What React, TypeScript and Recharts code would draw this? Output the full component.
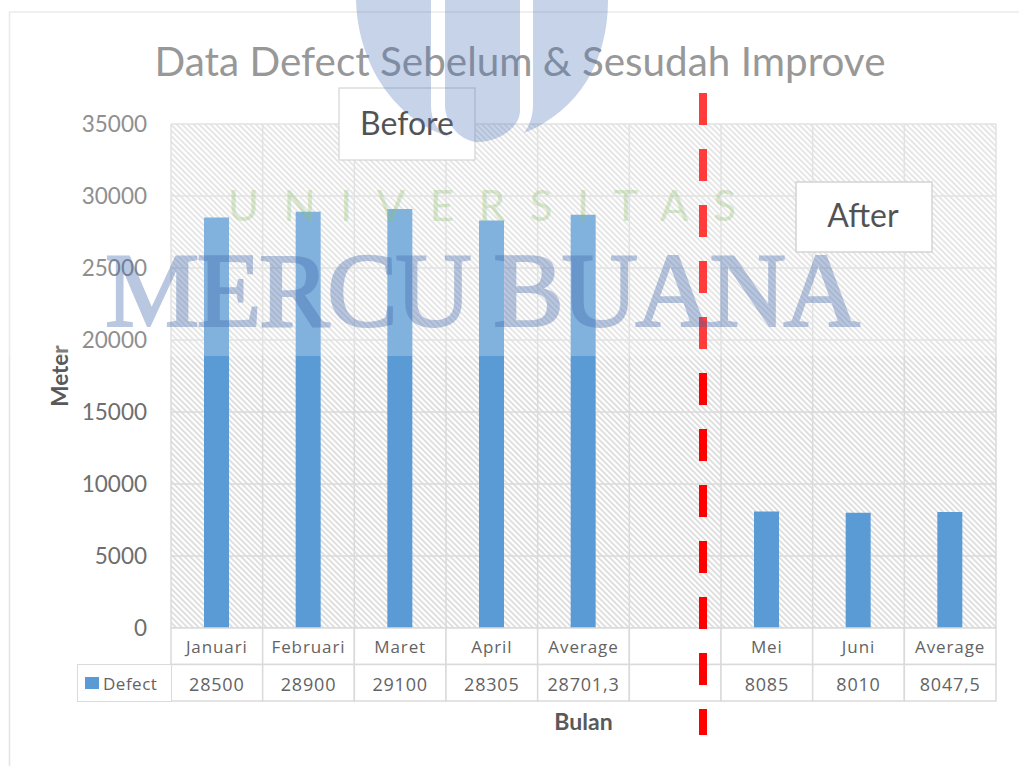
import React from "react";
import { BarChart, Bar, XAxis, YAxis, CartesianGrid, Legend } from "recharts";

const categories = ["Januari", "Februari", "Maret", "April", "Average", " ", "Mei", "Juni", "Average"];
const defectValues: (number | null)[] = [28500, 28900, 29100, 28305, 28701.3, null, 8085, 8010, 8047.5];
const yTicks = [0, 5000, 10000, 15000, 20000, 25000, 30000, 35000];
const seriesName = "Defect";
const chartTitle = "Data Defect Sebelum & Sesudah Improve";

const data = categories.map((name, i) => ({ name, Defect: defectValues[i] }));

const W = 1019;
const H = 766;
const PLOT_LEFT = 171;
const PLOT_RIGHT = 996;
const BAND = (PLOT_RIGHT - PLOT_LEFT) / categories.length;
const ROW = 36.5;
const GRID = "#dadada";
const TABLE_FONT = "'Open Sans', sans-serif";
const MAIN_FONT = "Lato, sans-serif";

const fmt = (v: number | null) => (v === null ? "" : String(v).replace(".", ","));

function TableTick(props: any) {
  const { x, y, payload, index } = props;
  const left = x - BAND / 2;
  return (
    <g>
      <rect x={left} y={y} width={BAND} height={ROW} fill="#fff" stroke={GRID} strokeWidth={1.5} />
      <rect x={left} y={y + ROW} width={BAND} height={ROW} fill="#fff" stroke={GRID} strokeWidth={1.5} />
      <text x={x} y={y + 25} textAnchor="middle" fontFamily={TABLE_FONT} fontSize={17} letterSpacing={0.9} fill="#636363">
        {payload.value}
      </text>
      <text x={x} y={y + ROW + 26} textAnchor="middle" fontFamily={TABLE_FONT} fontSize={18} letterSpacing={0.8} fill="#636363">
        {fmt(defectValues[index])}
      </text>
    </g>
  );
}

function LegendCell() {
  return (
    <div
      style={{
        boxSizing: "border-box",
        width: 95,
        height: 38,
        border: `1.5px solid ${GRID}`,
        background: "#fff",
        display: "flex",
        alignItems: "center",
        paddingLeft: 7,
        fontFamily: TABLE_FONT,
        fontSize: 17,
        letterSpacing: 0.5,
        color: "#636363",
      }}
    >
      <span style={{ width: 14, height: 12, background: "#5b9bd5", marginRight: 4, display: "inline-block" }} />
      {seriesName}
    </div>
  );
}

function Overlay() {
  return (
    <svg
      width={W}
      height={H}
      style={{ position: "absolute", left: 0, top: 0, pointerEvents: "none" }}
    >
      <path d={`M${W} 12 H9.5 V${H}`} fill="none" stroke="#e4e4e4" strokeWidth={1.5} />
      <text x={520} y={76} textAnchor="middle" fontFamily={MAIN_FONT} fontSize={41} fill="#7a7a7a" textLength={731} lengthAdjust="spacingAndGlyphs">
        {chartTitle}
      </text>
      <rect x={339} y={88} width={136} height={72} fill="#fff" stroke="#c8c8c8" strokeWidth={1.2} />
      <text x={407} y={135} textAnchor="middle" fontFamily={MAIN_FONT} fontSize={32} fill="#1f1f1f">Before</text>
      <rect x={796} y={182} width={136} height={70} fill="#fff" stroke="#c8c8c8" strokeWidth={1.5} />
      <text x={863} y={227} textAnchor="middle" fontFamily={MAIN_FONT} fontSize={32} fill="#1f1f1f">After</text>
      <line x1={703} y1={93} x2={703} y2={735} stroke="#ff0000" strokeWidth={8} strokeDasharray="32 24" />
      <rect x={0} y={0} width={W} height={356} fill="#fff" opacity={0.23} />
      <g fill="#4a74b8" opacity={0.31}>
        <path d="M356 0 L431 0 L431 105 C431 120 436 130 450 137 C400 122 358 70 356 0Z" />
        <path d="M445 0 L520 0 L520 110 C520 130 495 142 478 142 C462 142 445 125 445 105Z" />
        <path d="M533 0 L608 0 C608 60 580 110 524 133 C530 125 533 115 533 105Z" />
      </g>
      <text x={105} y={326} fontFamily="'Liberation Serif', serif" fontSize={106} fill="#3f66aa" stroke="#3f66aa" strokeWidth={2.2} opacity={0.36} textLength={755} lengthAdjust="spacing">
        MERCU BUANA
      </text>
      <text x={228} y={221} fontFamily={MAIN_FONT} fontSize={42} fill="#8fc06a" opacity={0.32} textLength={508} lengthAdjust="spacing">
        UNIVERSITAS
      </text>
    </svg>
  );
}

export default function App() {
  return (
    <div style={{ position: "absolute", left: 0, top: 0, width: W, height: H, background: "#fff", overflow: "hidden" }}>
      <BarChart
        width={W}
        height={H}
        data={data}
        margin={{ top: 124, right: W - PLOT_RIGHT, bottom: 38, left: 51 }}
      >
        <defs>
          <pattern id="hatch" patternUnits="userSpaceOnUse" width={4} height={4} patternTransform="rotate(-45)">
            <rect width={4} height={4} fill="#fff" />
            <rect width={1.6} height={4} fill="#d8d8d8" />
          </pattern>
        </defs>
        <CartesianGrid
          fill="url(#hatch)"
          fillOpacity={1}
          stroke={GRID}
          strokeWidth={1.5}
          verticalCoordinatesGenerator={() => categories.map((_, i) => PLOT_LEFT + i * BAND).concat(PLOT_RIGHT)}
        />
        <XAxis
          dataKey="name"
          interval={0}
          height={100}
          axisLine={false}
          tickLine={false}
          tickSize={0}
          tickMargin={0}
          tick={<TableTick />}
          label={{ value: "Bulan", position: "insideBottom", offset: -2, fontFamily: MAIN_FONT, fontSize: 23, fontWeight: 700, fill: "#595959" }}
        />
        <YAxis
          width={120}
          domain={[0, 35000]}
          ticks={yTicks}
          axisLine={false}
          tickLine={false}
          tickSize={0}
          tickMargin={24}
          tick={{ fontFamily: MAIN_FONT, fontSize: 22.5, fill: "#6e6e6e" }}
          label={{ value: "Meter", angle: -90, position: "insideLeft", textAnchor: "middle", offset: 9, fontFamily: MAIN_FONT, fontSize: 22.5, fontWeight: 700, fill: "#595959" }}
        />
        <Bar dataKey="Defect" name={seriesName} fill="#5b9bd5" barSize={25} isAnimationActive={false} />
        <Legend
          layout="horizontal"
          verticalAlign="middle"
          align="center"
          content={<LegendCell />}
          wrapperStyle={{ position: "absolute", left: 77, top: 664, width: 95, height: 38, margin: 0 }}
        />
      </BarChart>
      <Overlay />
    </div>
  );
}
